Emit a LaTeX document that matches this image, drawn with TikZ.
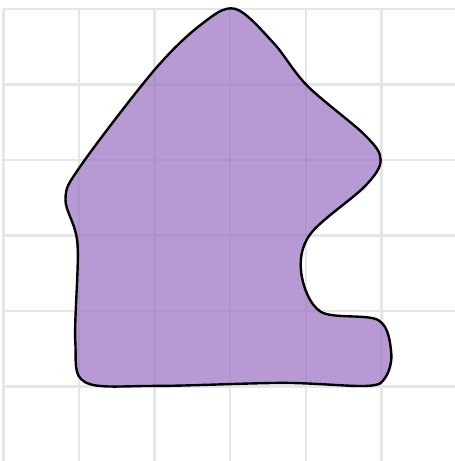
\documentclass[tikz,border=0pt]{standalone}
\usepackage{tikz}
\usepackage{xcolor}
\definecolor{gridgray}{HTML}{E6E6E6}
\definecolor{blobfill}{HTML}{9970C1}
\definecolor{ink}{HTML}{000000}
\tikzset{
  gridline/.style={draw=gridgray,line width=0.9pt},
  blob/.style={draw=ink,fill=blobfill,fill opacity=0.7,line width=0.9pt,line join=round}
}

\begin{document}
\begin{tikzpicture}[x=1cm,y=1cm]
  \useasboundingbox (-0.046,-0.983) rectangle (5.972,5.116);
  \clip (-0.046,-0.983) rectangle (5.972,5.116);
  \fill[white] (-0.046,-0.983) rectangle (5.972,5.116);

  \foreach \gx in {0,...,6}
    \draw[gridline] (\gx,-1.2) -- (\gx,5.0);
  \foreach \gy in {-1,...,5}
    \draw[gridline] (0,\gy) -- (6.2,\gy);

  \draw[blob] plot[smooth cycle,tension=0.55] coordinates {
    (3.06,5.00) (3.57,4.55) (4.02,3.98) (4.78,3.33) (4.99,3.00)
    (4.78,2.65) (4.06,2.02) (3.94,1.50) (4.20,0.99) (4.96,0.88)
    (5.13,0.45) (5.05,0.12) (4.80,0.01) (3.70,0.05) (2.00,0.01)
    (1.08,0.06) (0.95,0.60) (0.98,1.88) (0.82,2.48) (1.02,2.92)
    (1.98,4.17) (2.60,4.78)
  };
\end{tikzpicture}
\end{document}
